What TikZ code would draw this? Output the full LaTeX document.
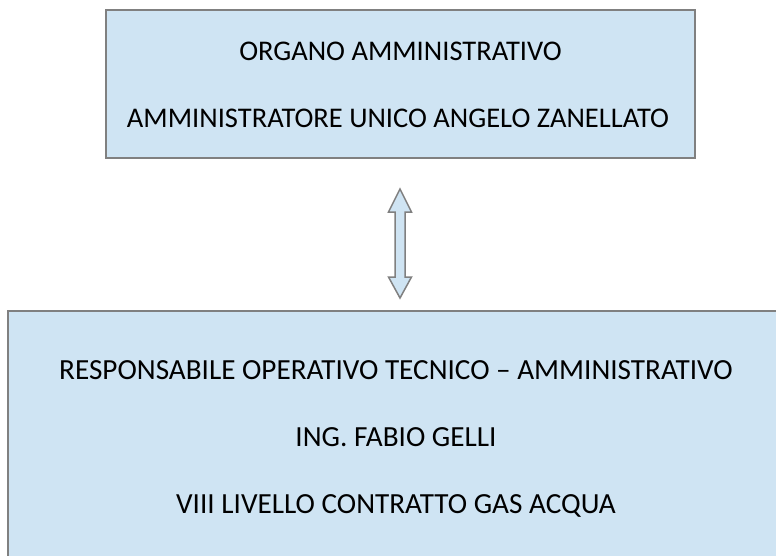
\documentclass[tikz,border=0pt]{standalone}
\usepackage{fontspec}
\setmainfont{Carlito}
\usetikzlibrary{positioning}
\definecolor{boxblue}{RGB}{207,228,243}
\definecolor{boxline}{RGB}{128,128,128}
\tikzstyle{orgbox} = [draw=boxline, fill=boxblue, line width=1.5pt, inner sep=0pt]
\tikzstyle{orgtext} = [anchor=base, inner sep=0pt, font=\fontsize{28.5}{34}\selectfont]
\tikzstyle{resptext} = [orgtext, font=\fontsize{29.2}{35}\selectfont]
\tikzstyle{blockarrow} = [draw=boxline, fill=boxblue, line width=1.5pt, line join=miter]

\begin{document}
\begin{tikzpicture}[x=1pt,y=-1pt]
        \useasboundingbox (0,0) rectangle (776,555);
        \clip (0,0) rectangle (776,555);

        % Boxes
        \node[orgbox, minimum width=589pt, minimum height=148pt] (organo) at (400.5,84) {};
        \node[orgbox, minimum width=776pt, minimum height=300pt] (responsabile) at (396,461) {};

        % Labels
        \node[orgtext] (organo-l1) at (400.5,60) {ORGANO AMMINISTRATIVO};
        \node[orgtext] (organo-l2) at (398,127) {AMMINISTRATORE UNICO ANGELO ZANELLATO};
        \node[resptext] (resp-l1) at (396,379) {RESPONSABILE OPERATIVO TECNICO – AMMINISTRATIVO};
        \node[resptext] (resp-l2) at (396,446) {ING. FABIO GELLI};
        \node[resptext] (resp-l3) at (396,513) {VIII LIVELLO CONTRATTO GAS ACQUA};

        % Double arrow
        \coordinate (arrow-top) at (400,189);
        \coordinate (arrow-bot) at (400,298);
        \draw[blockarrow] (arrow-top) -- (411.5,212) -- (405,212) -- (405,277) -- (411.5,277)
              -- (arrow-bot) -- (388.5,277) -- (395,277) -- (395,212) -- (388.5,212) -- cycle;
    \end{tikzpicture}
\end{document}
